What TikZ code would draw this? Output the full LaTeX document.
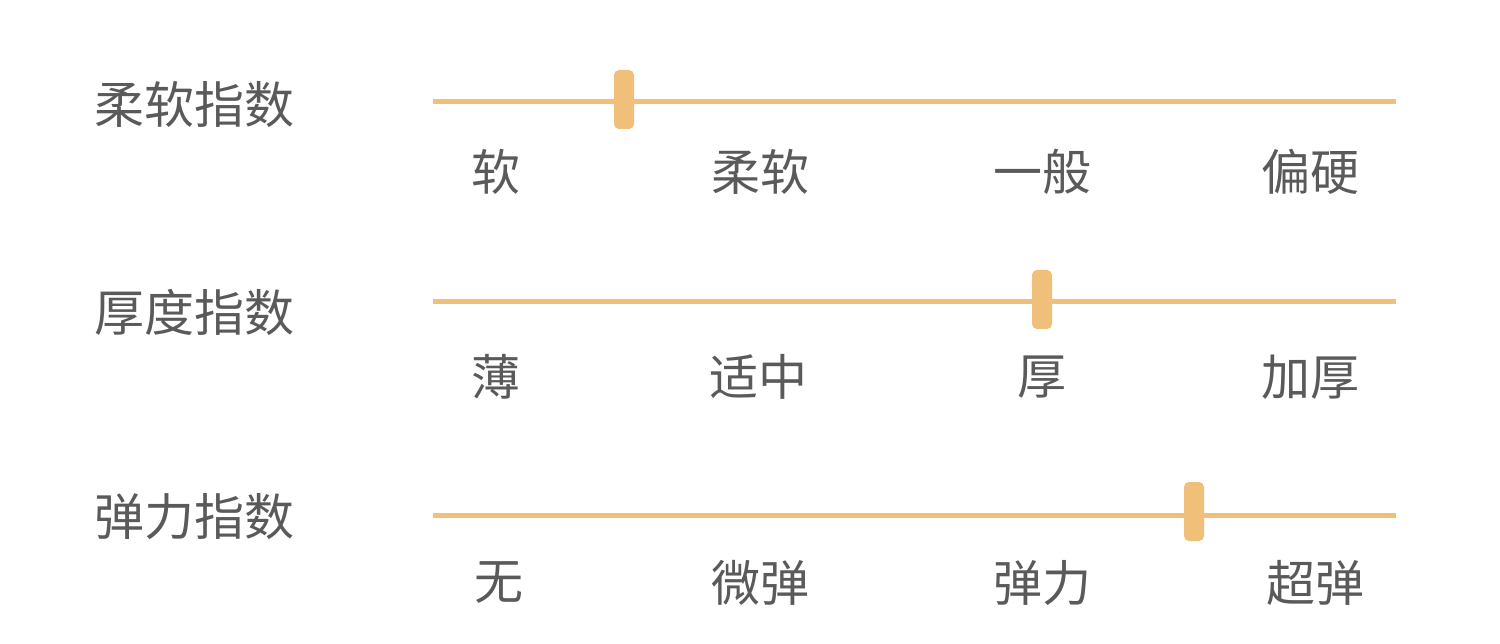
\documentclass[tikz,border=0pt]{standalone}
\usepackage{fontspec}
\newfontfamily\cjk{Noto Sans CJK SC}
\definecolor{bar}{HTML}{F0BF7A}
\definecolor{txt}{HTML}{5A5A5A}
\begin{document}
\begin{tikzpicture}[x=1pt,y=-1pt,
  lab/.style={font=\cjk\fontsize{49}{49}\selectfont, text=txt, inner sep=0pt},
  title/.style={font=\cjk\fontsize{50}{50}\selectfont, text=txt, inner sep=0pt, anchor=west},
  track/.style={draw=bar, line width=5pt},
  knob/.style={fill=bar, rounded corners=5pt}]
\useasboundingbox (0,0) rectangle (1500,644);
% row 1
\node[title] (t1) at (94,105) {柔软指数};
\coordinate (a1) at (433,102); \coordinate (b1) at (1396,102);
\draw[track] (a1) -- (b1);
\fill[knob] (614,70) rectangle (634,129);
\node[lab] (l11) at (496,172) {软};
\node[lab] (l12) at (760,172) {柔软};
\node[lab] (l13) at (1042,172) {一般};
\node[lab] (l14) at (1310,172) {偏硬};
% row 2
\node[title] (t2) at (94,312) {厚度指数};
\coordinate (a2) at (433,302); \coordinate (b2) at (1396,302);
\draw[track] (a2) -- (b2);
\fill[knob] (1032,270) rectangle (1052,329);
\node[lab] (l21) at (496,377) {薄};
\node[lab] (l22) at (758,377) {适中};
\node[lab] (l23) at (1042,377) {厚};
\node[lab] (l24) at (1310,377) {加厚};
% row 3
\node[title] (t3) at (94,517) {弹力指数};
\coordinate (a3) at (433,515); \coordinate (b3) at (1396,515);
\draw[track] (a3) -- (b3);
\fill[knob] (1184,482) rectangle (1204,541);
\node[lab] (l31) at (499,583) {无};
\node[lab] (l32) at (760,583) {微弹};
\node[lab] (l33) at (1042,583) {弹力};
\node[lab] (l34) at (1315,583) {超弹};
\end{tikzpicture}
\end{document}
